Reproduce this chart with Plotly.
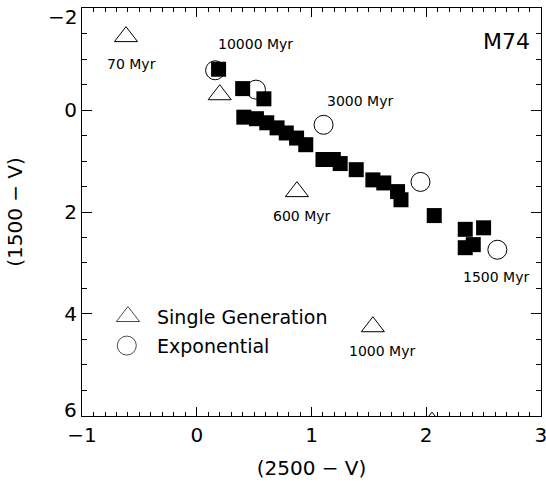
import plotly.graph_objects as go

# Observed galaxy colours (filled squares)
obs_x = [0.19, 0.40, 0.585, 0.41, 0.52, 0.61, 0.70, 0.78, 0.87, 0.95, 1.10, 1.19, 1.25,
         1.39, 1.535, 1.63, 1.75, 1.78, 2.07, 2.34, 2.50, 2.34, 2.41]
obs_y = [-0.80, -0.42, -0.22, 0.14, 0.17, 0.25, 0.35, 0.45, 0.55, 0.68, 0.97, 0.97, 1.05,
         1.17, 1.37, 1.43, 1.60, 1.76, 2.07, 2.34, 2.31, 2.70, 2.64]

# Single-generation models (open triangles)
sg_x = [-0.617, 0.20, 0.873, 1.535, 2.05]
sg_y = [-1.44, -0.30, 1.60, 4.25, 6.12]

# Exponential models (open circles)
exp_x = [0.16, 0.516, 1.105, 1.95, 2.62]
exp_y = [-0.78, -0.40, 0.29, 1.41, 2.74]

# Age labels
age_text = ["70 Myr", "10000 Myr", "3000 Myr", "600 Myr", "1000 Myr", "1500 Myr"]
age_x = [-0.573, 0.516, 1.426, 0.914, 1.618, 2.612]
age_y = [-0.91, -1.30, -0.174, 2.087, 4.72, 3.265]

# Key
key_x = [-0.60, -0.61]
key_y = [4.05, 4.62]
key_text = ["Single Generation", "Exponential"]

# Ticks
x_ticks = [-1, 0, 1, 2, 3]
y_ticks = [-2, 0, 2, 4, 6]
y_ticktext = ["", "0", "2", "4", ""]   # end labels drawn separately, nudged inside
y_end_text = ["−2", "6"]

FONT = "DejaVu Sans"

fig = go.Figure()
fig.add_trace(go.Scatter(x=obs_x, y=obs_y, mode="markers",
                         marker=dict(symbol="square", size=15, color="black"),
                         showlegend=False, cliponaxis=True))
fig.add_trace(go.Scatter(x=sg_x, y=sg_y, mode="markers",
                         marker=dict(symbol="triangle-up-open", size=20, color="black",
                                     line=dict(width=1, color="black")),
                         showlegend=False, cliponaxis=True))
fig.add_trace(go.Scatter(x=exp_x, y=exp_y, mode="markers",
                         marker=dict(symbol="circle-open", size=19, color="black",
                                     line=dict(width=1, color="black")),
                         showlegend=False, cliponaxis=True))
# key symbols
fig.add_trace(go.Scatter(x=key_x, y=key_y, mode="markers",
                         marker=dict(symbol=["triangle-up-open", "circle-open"], size=[20, 19],
                                     color="black", line=dict(width=1, color="black")),
                         showlegend=False))

for t, x, y in zip(age_text, age_x, age_y):
    fig.add_annotation(x=x, y=y, xref="x", yref="y", text=t, showarrow=False,
                       font=dict(family=FONT, size=14, color="black"))

for t, y in zip(key_text, key_y):
    fig.add_annotation(x=-0.36, y=y, xref="x", yref="y", text=t, showarrow=False,
                       xanchor="left", font=dict(family=FONT, size=19, color="black"))

fig.add_annotation(x=2.70, y=-1.34, xref="x", yref="y", text="M74", showarrow=False,
                   font=dict(family=FONT, size=22, color="black"))

# end y tick labels, nudged inward like the original
for t, y, ys in zip(y_end_text, [y_ticks[0], y_ticks[-1]], [-9, 6]):
    fig.add_annotation(x=0, xref="paper", y=y, yref="y", text=t, showarrow=False,
                       xanchor="right", yanchor="middle", xshift=-3, yshift=ys,
                       font=dict(family=FONT, size=20, color="black"))

axis_common = dict(showgrid=False, zeroline=False, showline=True, linecolor="black",
                   linewidth=1, mirror="allticks", ticks="inside", tickcolor="black",
                   tickwidth=1, automargin=False, ticklabeloverflow="allow",
                   tickfont=dict(family=FONT, size=20, color="black"))

fig.update_xaxes(range=[-1.0005, 3.0005], tickvals=x_ticks, ticklen=9, ticklabelstandoff=1,
                 minor=dict(dtick=0.1, tick0=0, ticks="inside", ticklen=4, tickcolor="black"),
                 title=dict(text="(2500 − V)", font=dict(family=FONT, size=20, color="black"),
                            standoff=14),
                 **axis_common)
fig.update_yaxes(range=[6.001, -2.001], tickvals=y_ticks, ticktext=y_ticktext, ticklen=10,
                 minor=dict(dtick=0.5, tick0=0, ticks="inside", ticklen=5, tickcolor="black"),
                 title=dict(text="(1500 − V)", font=dict(family=FONT, size=20, color="black"),
                            standoff=36),
                 **axis_common)

fig.update_layout(width=546, height=483, margin=dict(l=82, r=5, t=8, b=67),
                  paper_bgcolor="white", plot_bgcolor="white",
                  font=dict(family=FONT, color="black"))

fig.write_html("out.html", config={"displayModeBar": False},
               post_script="document.body.style.margin='0';")
